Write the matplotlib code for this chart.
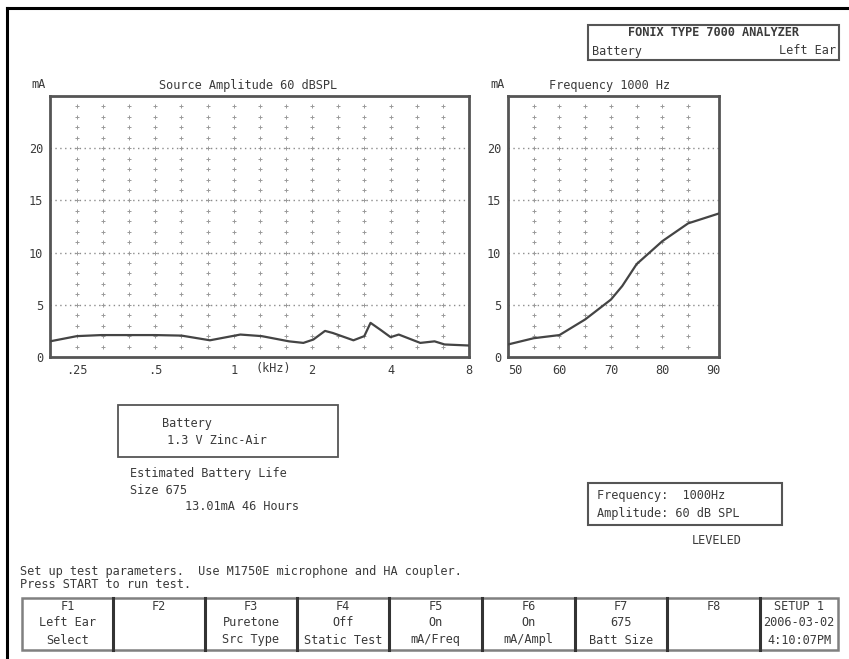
import matplotlib
matplotlib.use("Agg")
import matplotlib.pyplot as plt
import numpy as np

W, H = 849, 659
FONT = "DejaVu Sans Mono"
TXT = "#3a3a3a"
FS = 8.6

# ---- data ----
freq_khz = [0.197, 0.25, 0.31, 0.5, 0.63, 0.81, 1.06, 1.28, 1.63, 1.85, 2.02, 2.24, 2.4,
            2.88, 3.17, 3.35, 3.66, 4.0, 4.3, 5.2, 5.9, 6.45, 8.0]
ma_vs_freq = [1.5, 2.0, 2.1, 2.1, 2.05, 1.6, 2.15, 2.0, 1.5, 1.35, 1.67, 2.5, 2.3,
              1.6, 2.0, 3.27, 2.6, 1.9, 2.15, 1.35, 1.5, 1.2, 1.1]
ampl_db = [50, 55, 60, 65, 70, 72.2, 75, 80, 85, 91]
ma_vs_ampl = [1.2, 1.8, 2.1, 3.6, 5.5, 6.8, 8.9, 11.1, 12.8, 13.75]

freq_ticks = [0.25, 0.5, 1, 2, 4, 8]
freq_ticklabels = [".25", ".5", "1", "2", "4", "8"]
freq_grid = [0.25 * 2 ** (i / 3) for i in range(15)]
ampl_ticks = [50, 60, 70, 80, 90]
ampl_grid = [55, 60, 65, 70, 75, 80, 85]
ma_ticks = [0, 5, 10, 15, 20]

fig = plt.figure(figsize=(W / 100, H / 100), dpi=100)
fig.patch.set_facecolor("white")


def px_axes(x0, y0, x1, y1, **kw):
    return fig.add_axes([x0 / W, 1 - y1 / H, (x1 - x0) / W, (y1 - y0) / H], **kw)


def ftext(x, y, s, **kw):
    kw.setdefault("fontsize", FS)
    kw.setdefault("color", TXT)
    kw.setdefault("family", FONT)
    fig.text(x / W, 1 - y / H, s, va="center", **kw)


def prect(x0, y0, x1, y1, lw=1.5, ec="#555555"):
    r = plt.Rectangle((x0 / W, 1 - y1 / H), (x1 - x0) / W, (y1 - y0) / H,
                      transform=fig.transFigure, fill=False, lw=lw, ec=ec)
    fig.patches.append(r)


def style_axes(ax, cols):
    ax.set_ylim(0, 25)
    for sp in ax.spines.values():
        sp.set_linewidth(2.0)
        sp.set_color("#555555")
    ax.tick_params(length=0, labelsize=FS, labelcolor=TXT, pad=5)
    for lab in ax.get_xticklabels() + ax.get_yticklabels():
        lab.set_family(FONT)
    for yv in [5, 10, 15, 20]:
        ax.axhline(yv, color="#8c8c8c", lw=1.0, ls=(0, (1, 2.5)), zorder=1)
    xs, ys = [], []
    for c in cols:
        for yv in range(1, 25):
            xs.append(c)
            ys.append(yv)
    ax.scatter(xs, ys, marker="+", s=9, lw=0.7, color="#9a9a9a", zorder=1)


# ---- left chart ----
ax1 = px_axes(50, 96, 469, 357)
ax1.set_xscale("log")
ax1.set_xlim(0.197, 8.0)
ax1.minorticks_off()
ax1.set_xticks(freq_ticks)
ax1.set_xticklabels(freq_ticklabels)
ax1.set_yticks(ma_ticks)
style_axes(ax1, freq_grid)
ax1.plot(freq_khz, ma_vs_freq, color="#444444", lw=1.6, zorder=3)
ax1.text(1.42, -5 / 261, "(kHz)", transform=ax1.get_xaxis_transform(), ha="center",
         va="top", fontsize=FS, color=TXT, family=FONT)

# ---- right chart ----
ax2 = px_axes(508, 96, 719, 357)
ax2.set_xlim(50, 91)
ax2.set_xticks(ampl_ticks)
ax2.set_xticklabels([str(v) for v in ampl_ticks])
ax2.set_yticks(ma_ticks)
style_axes(ax2, ampl_grid)
ax2.get_xticklabels()[0].set_ha("left")
ax2.plot(ampl_db, ma_vs_ampl, color="#444444", lw=1.6, zorder=3)

# chart headers
ftext(31, 85, "mA")
ftext(248, 85, "Source Amplitude 60 dBSPL", ha="center")
ftext(490, 85, "mA")
ftext(610, 85, "Frequency 1000 Hz", ha="center")

# outer frame lines (top and left)
fig.add_artist(plt.Line2D([7 / W, 1], [1 - 8 / H, 1 - 8 / H], transform=fig.transFigure,
                          color="black", lw=2.2))
fig.add_artist(plt.Line2D([7 / W, 7 / W], [1 - 8 / H, 0], transform=fig.transFigure,
                          color="black", lw=2.2))

# top-right header box
prect(588, 25, 839, 60)
ftext(713, 33, "FONIX TYPE 7000 ANALYZER", ha="center", weight="bold")
ftext(592, 51, "Battery")
ftext(836, 51, "Left Ear", ha="right")

# battery box
prect(118, 405, 338, 457, lw=1.3)
ftext(162, 423, "Battery")
ftext(167, 440, "1.3 V Zinc-Air")
ftext(130, 473, "Estimated Battery Life")
ftext(130, 490, "Size 675")
ftext(185, 507, "13.01mA 46 Hours")

# frequency box
prect(588, 483, 782, 525, lw=1.5)
ftext(597, 495, "Frequency:  1000Hz")
ftext(597, 513, "Amplitude: 60 dB SPL")
ftext(717, 540, "LEVELED", ha="center")

# status lines
ftext(20, 571, "Set up test parameters.  Use M1750E microphone and HA coupler.")
ftext(20, 584, "Press START to run test.")

# function key row
keys = [("F1", "Left Ear", "Select"), ("F2", "", ""), ("F3", "Puretone", "Src Type"),
        ("F4", "Off", "Static Test"), ("F5", "On", "mA/Freq"), ("F6", "On", "mA/Ampl"),
        ("F7", "675", "Batt Size"), ("F8", "", ""), ("SETUP 1", "2006-03-02", "4:10:07PM")]
edges = [22, 113, 205, 297, 389, 482, 575, 667, 760, 838]
prect(22, 598, 838, 650, lw=1.8, ec="#808080")
for e in edges[1:-1]:
    fig.add_artist(plt.Line2D([e / W, e / W], [1 - 598 / H, 1 - 650 / H],
                              transform=fig.transFigure, color="#333333", lw=2.2))
for i, (a, b, c) in enumerate(keys):
    cx = (edges[i] + edges[i + 1]) / 2
    ftext(cx, 606, a, ha="center")
    ftext(cx, 623, b, ha="center")
    ftext(cx, 640, c, ha="center")

fig.savefig("out.png", dpi=100, facecolor="white")
